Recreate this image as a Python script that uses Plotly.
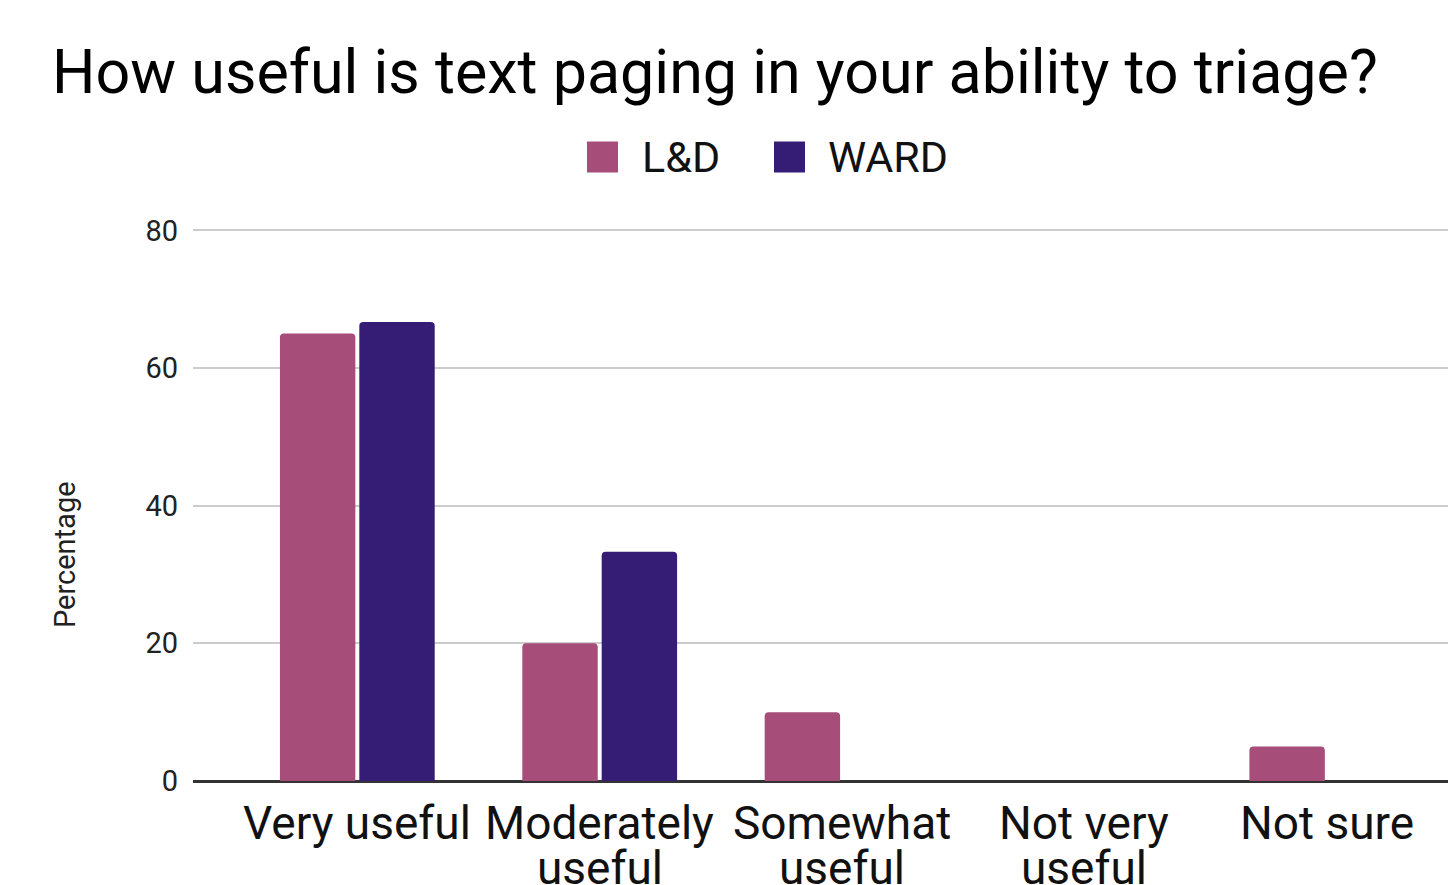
import plotly.graph_objects as go

# Survey responses (% of respondents) per answer option
categories = ["Very useful", "Moderately useful", "Somewhat useful", "Not very useful", "Not sure"]
category_lines = [["Very useful"], ["Moderately", "useful"], ["Somewhat", "useful"],
                  ["Not very", "useful"], ["Not sure"]]
series_names = ["L&D", "WARD"]
ld_values = [65, 20, 10, 0, 5]
ward_values = [66.7, 33.3, 0, 0, 0]
series_colors = ["#a64d79", "#351c75"]
y_ticks = [0, 20, 40, 60, 80]

FONT = "Roboto"
W, H = 1448, 885
L, R, T, B = 193, 0, 229, 104
plot_w = W - L - R
plot_h = H - T - B


def py(pixel_y):
    """Convert a pixel row into paper y."""
    return (H - B - pixel_y) / plot_h


def px(pixel_x):
    """Convert a pixel column into paper x."""
    return (pixel_x - L) / plot_w


fig = go.Figure()
for name, vals, col in zip(series_names, [ld_values, ward_values], series_colors):
    fig.add_trace(go.Bar(x=categories, y=vals, name=name, marker_color=col,
                         marker_line_width=0, showlegend=False))

fig.update_layout(
    width=W, height=H,
    margin=dict(l=L, r=R, t=T, b=B, autoexpand=False),
    paper_bgcolor="white", plot_bgcolor="white",
    font=dict(family=FONT, color="#222222"),
    bargap=0.345, bargroupgap=0.05, barcornerradius=4,
    title=dict(text="How useful is text paging in your ability to triage?",
               font=dict(family=FONT, size=61, color="#000000"),
               x=52 / W, xanchor="left", xref="container",
               y=1 - 72 / H, yanchor="middle", yref="container"),
)

fig.update_xaxes(type="category", range=[-0.678, 4.5], showgrid=False,
                 showline=False, ticks="", showticklabels=False, automargin=False)
fig.update_yaxes(range=[0, 80.2], tickvals=y_ticks, showgrid=True, gridcolor="#cccccc",
                 gridwidth=2, zeroline=True, zerolinecolor="#333333", zerolinewidth=3,
                 showline=False, ticks="", tickfont=dict(size=29, color="#222222"),
                 ticklabelstandoff=14, automargin=False)

# Category labels, wrapped tightly under each group
line_centers = [823, 868]
for cat, lines in zip(categories, category_lines):
    for i, line in enumerate(lines):
        fig.add_annotation(text=line, showarrow=False, xref="x", yref="paper",
                           x=cat, y=py(line_centers[i]), xanchor="center",
                           yanchor="middle",
                           font=dict(family=FONT, size=46, color="#111111"))

# Y axis title
fig.add_annotation(text="Percentage", textangle=-90, showarrow=False,
                   xref="paper", yref="paper", x=px(65), y=py(555),
                   xanchor="center", yanchor="middle",
                   font=dict(family=FONT, size=29, color="#222222"))

# Legend drawn with large square swatches
legend_items = [(587, 640), (774, 826)]
sw = 31
cy = 157
for (sx, tx), name, col in zip(legend_items, series_names, series_colors):
    fig.add_shape(type="rect", xref="paper", yref="paper",
                  x0=px(sx), x1=px(sx + sw), y0=py(cy + sw / 2), y1=py(cy - sw / 2),
                  fillcolor=col, line=dict(width=0))
    fig.add_annotation(text=name, showarrow=False, xref="paper", yref="paper",
                       x=px(tx), y=py(cy), xanchor="left", yanchor="middle",
                       font=dict(family=FONT, size=43, color="#111111"))

fig.write_html("out.html")
